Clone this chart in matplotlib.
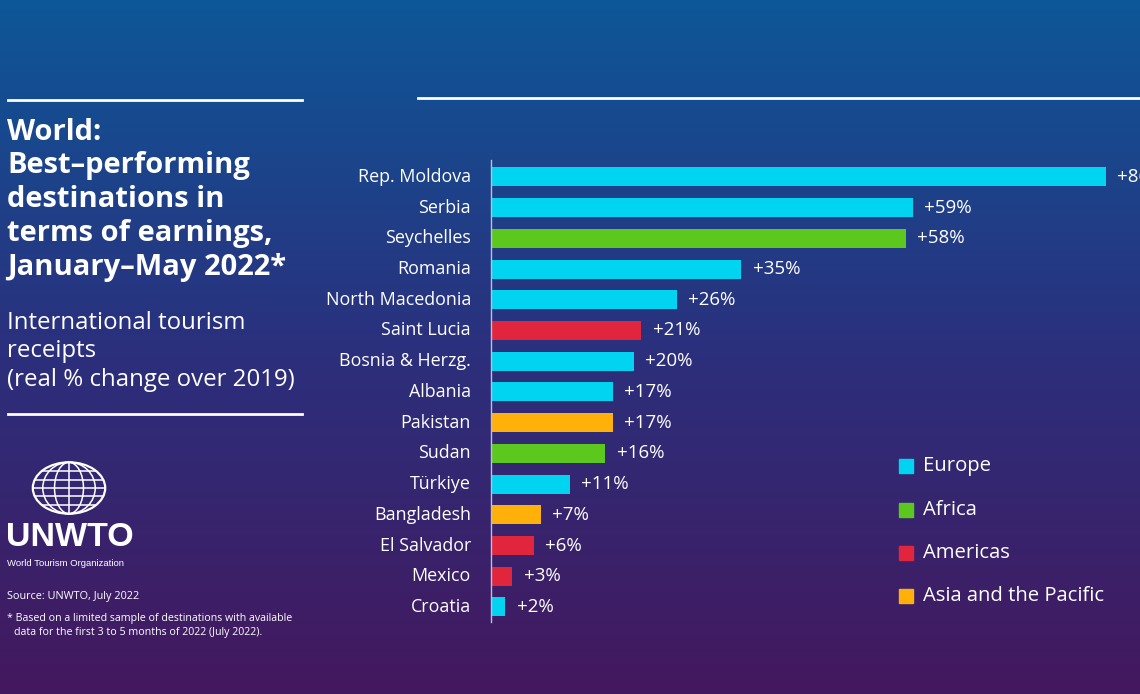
import matplotlib.pyplot as plt
from matplotlib.patches import Ellipse, Rectangle
import numpy as np

plt.rcParams['font.family'] = ['Open Sans', 'DejaVu Sans']

countries = ['Rep. Moldova', 'Serbia', 'Seychelles', 'Romania', 'North Macedonia',
             'Saint Lucia', 'Bosnia & Herzg.', 'Albania', 'Pakistan', 'Sudan',
             'Türkiye', 'Bangladesh', 'El Salvador', 'Mexico', 'Croatia']
change = [86, 59, 58, 35, 26, 21, 20, 17, 17, 16, 11, 7, 6, 3, 2]
region = ['Europe', 'Europe', 'Africa', 'Europe', 'Europe',
          'Americas', 'Europe', 'Europe', 'Asia and the Pacific', 'Africa',
          'Europe', 'Asia and the Pacific', 'Americas', 'Americas', 'Europe']
regions = ['Europe', 'Africa', 'Americas', 'Asia and the Pacific']
colors = {'Europe': '#00d4f0', 'Africa': '#5cc81e',
          'Americas': '#e0253d', 'Asia and the Pacific': '#ffb10a'}

W, H = 1140, 694
fig = plt.figure(figsize=(W / 100, H / 100), dpi=100)


def fx(px):
    return px / W


def fy(py):
    return 1 - py / H


# background gradient, blue at the top to purple at the bottom
bg = fig.add_axes([0, 0, 1, 1])
bg.set_axis_off()
top = np.array([0x0d, 0x57, 0x98]) / 255
mid = np.array([0x2b, 0x30, 0x7d]) / 255
bot = np.array([0x44, 0x18, 0x5e]) / 255
t = np.linspace(0, 1, 300)[:, None]
grad = np.where(t < 0.5, top + (mid - top) * (t / 0.5), mid + (bot - mid) * ((t - 0.5) / 0.5))
grad = grad[:, None, :] * np.ones((1, 10, 1))
bg.imshow(grad, aspect='auto', extent=[0, 1, 0, 1], origin='upper')
bg.set_xlim(0, 1)
bg.set_ylim(0, 1)

# rules
for x0, x1, y in [(8, 302, 100), (418, 1140, 98), (8, 302, 414)]:
    bg.plot([fx(x0), fx(x1)], [fy(y), fy(y)], color='white', lw=2)

# title block
title_lines = ['World:', 'Best–performing', 'destinations in',
               'terms of earnings,', 'January–May 2022*']
for line, y in zip(title_lines, [132, 166, 200, 234, 267]):
    fig.text(fx(7), fy(y), line, color='white', fontsize=21, fontweight='bold',
             va='center', ha='left')
sub_lines = ['International tourism', 'receipts', '(real % change over 2019)']
for line, y in zip(sub_lines, [323, 351, 380]):
    fig.text(fx(7), fy(y), line, color='white', fontsize=17.3, va='center', ha='left')

# logo
lg = fig.add_axes([fx(31), fy(515), fx(76), 54 / H])
lg.set_axis_off()
lg.set_xlim(-1.05, 1.05)
lg.set_ylim(-1.05, 1.05)
lg.add_patch(Ellipse((0, 0), 2, 2, fill=False, ec='white', lw=1.6))
for w in [1.45, 0.8]:
    lg.add_patch(Ellipse((0, 0), w, 2, fill=False, ec='white', lw=1.1))
lg.plot([0, 0], [-1, 1], color='white', lw=1.1)
for yy in [-0.66, -0.33, 0, 0.33, 0.66]:
    half = np.sqrt(1 - yy ** 2)
    lg.plot([-half, half], [yy, yy], color='white', lw=1.1)
fig.text(fx(6), fy(538), 'UNWTO', color='white', fontsize=24.5, fontweight='bold',
         fontfamily=['Liberation Sans Narrow', 'Liberation Sans', 'DejaVu Sans'],
         va='center', ha='left')
fig.text(fx(7), fy(564), 'World Tourism Organization', color='white', fontsize=6.8,
         fontfamily=['Liberation Sans', 'DejaVu Sans'], va='center', ha='left')
fig.text(fx(7), fy(596), 'Source: UNWTO, July 2022', color='white', fontsize=7.8,
         va='center', ha='left')
fig.text(fx(7), fy(619), '* Based on a limited sample of destinations with available',
         color='white', fontsize=7.7, va='center', ha='left')
fig.text(fx(14), fy(632), 'data for the first 3 to 5 months of 2022 (July 2022).',
         color='white', fontsize=7.7, va='center', ha='left')

# bar chart
ax = fig.add_axes([fx(491), fy(622), fx(W - 491), 462 / H])
ax.patch.set_alpha(0)
ypos = np.arange(len(countries))
ax.barh(ypos, change, height=0.62, color=[colors[r] for r in region])
ax.set_xlim(0, 90.8)
ax.set_ylim(14.49, -0.55)
for s in ['top', 'right', 'bottom']:
    ax.spines[s].set_visible(False)
ax.spines['left'].set_color('#b8bfe0')
ax.spines['left'].set_linewidth(1)
ax.set_xticks([])
ax.set_yticks([])
for y, name, v in zip(ypos, countries, change):
    ax.text(-2.8, y, name, ha='right', va='center', color='white', fontsize=12.9,
            clip_on=False)
    ax.text(v + 1.6, y, f'+{v}%', ha='left', va='center', color='white', fontsize=13.5,
            clip_on=False)

# legend
for r, y in zip(regions, [466, 510, 553, 596]):
    bg.add_patch(Rectangle((fx(899), fy(y + 7)), fx(14), 14 / H,
                           color=colors[r], transform=bg.transAxes))
    fig.text(fx(923), fy(y), r, color='white', fontsize=14.6, va='center', ha='left')

fig.savefig('out.png', dpi=100)
